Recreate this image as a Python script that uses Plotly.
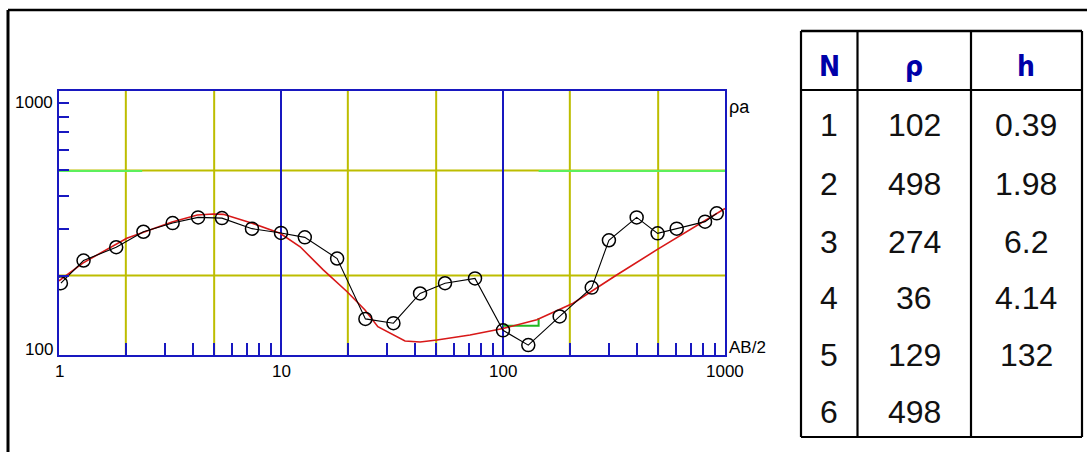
import numpy as np
import plotly.graph_objects as go

W, H = 1087, 452

# Field sounding curve: AB/2 (m) vs apparent resistivity (Ohm*m)
ab2_obs = [1.02, 1.29, 1.81, 2.40, 3.25, 4.23, 5.42, 7.40, 10.0, 12.8, 17.9, 24.0, 32.1,
           42.3, 54.8, 74.8, 100, 130, 180, 251, 300, 400, 497, 606, 813, 918]
rho_obs = [187, 228, 256, 293, 316, 332, 330, 301, 290, 279, 232, 137, 132,
           171, 187, 195, 124, 109, 140, 180, 272, 332, 289, 301, 320, 344]

# Model response curve
ab2_fit = [1.0, 1.28, 2.02, 3.23, 4.2, 4.94, 5.5, 7.3, 9.9, 12.2, 15.5, 19.8, 23.9, 27.3,
           36.2, 42.3, 50.4, 71.0, 100, 142, 207, 325, 492, 695, 1000]
rho_fit = [191, 223, 277, 319, 339, 342, 341, 317, 289, 257, 210, 174, 148, 128,
           113, 112, 114, 119, 126, 136, 157, 201, 250, 298, 359]

# Layered model table
layer_no = [1, 2, 3, 4, 5, 6]
layer_rho = [102, 498, 274, 36, 129, 498]
layer_h = ["0.39", "1.98", "6.2", "4.14", "132", ""]

# Visible parts of the layered model (resistivity steps vs depth)
model_hi_x = [1, 2.37, None, 144.7, 1000]
model_hi_y = [498, 498, None, 498, 498]
model_lo_x = [100, 144.7, 144.7]
model_lo_y = [129, 129, 138]

# Grid positions
grid_major_x = [10, 100]
grid_minor_x = [2, 5, 20, 50, 200, 500]
grid_y = [200, 500]
x_minor_ticks = [m * d for d in (1, 10, 100) for m in range(2, 10)]
y_minor_ticks = [m * 100 for m in range(2, 10)]
x_labels = [1, 10, 100, 1000]

BLUE = "#1818C0"
YELLOW = "#BDBD00"
RED = "#D81818"
GREEN_HI = "#5CF05C"
GREEN_LO = "#22B822"
FONT = "Liberation Sans"

x0p, x1p = 59, 725
y0p, y1p = 355, 91

def vlines(xs, ylo=100, yhi=1000):
    xx, yy = [], []
    for v in xs:
        xx += [v, v, None]
        yy += [ylo, yhi, None]
    return xx, yy

def hlines(ys, xlo=1, xhi=1000):
    xx, yy = [], []
    for v in ys:
        xx += [xlo, xhi, None]
        yy += [v, v, None]
    return xx, yy

fig = go.Figure()

gx, gy = vlines(grid_minor_x)
hx, hy = hlines(grid_y)
fig.add_trace(go.Scatter(x=gx + hx, y=gy + hy, mode="lines",
                         line=dict(color=YELLOW, width=2), hoverinfo="skip"))
bx, by = vlines(grid_major_x)
fig.add_trace(go.Scatter(x=bx, y=by, mode="lines",
                         line=dict(color=BLUE, width=2), hoverinfo="skip"))

fig.add_trace(go.Scatter(x=model_hi_x, y=model_hi_y, mode="lines",
                         line=dict(color=GREEN_HI, width=2), hoverinfo="skip"))
fig.add_trace(go.Scatter(x=model_lo_x, y=model_lo_y, mode="lines",
                         line=dict(color=GREEN_LO, width=2), hoverinfo="skip"))

fig.add_trace(go.Scatter(x=ab2_fit, y=rho_fit, mode="lines",
                         line=dict(color=RED, width=1.6)))
fig.add_trace(go.Scatter(x=ab2_obs, y=rho_obs, mode="lines+markers",
                         line=dict(color="black", width=1.1),
                         marker=dict(symbol="circle-open", size=13, color="black",
                                     line=dict(width=1.5, color="black"))))

fig.update_xaxes(type="log", range=[0, 3], domain=[x0p / W, x1p / W],
                 showgrid=False, zeroline=False, showline=True, mirror=True,
                 linecolor=BLUE, linewidth=2, ticks="inside", ticklen=12,
                 tickwidth=2, tickcolor=BLUE, tickvals=x_minor_ticks,
                 showticklabels=False, fixedrange=True)
fig.update_yaxes(type="log", range=[2, 3], domain=[1 - y0p / H, 1 - y1p / H],
                 showgrid=False, zeroline=False, showline=True, mirror=True,
                 linecolor=BLUE, linewidth=2, ticks="inside", ticklen=10,
                 tickwidth=2, tickcolor=BLUE, tickvals=y_minor_ticks,
                 showticklabels=False, fixedrange=True)

shapes = []
ann = []

# magenta tick at 500 on the left axis
shapes.append(dict(type="line", xref="paper", yref="y",
                   x0=x0p / W, x1=(x0p + 10) / W,
                   y0=np.log10(500), y1=np.log10(500),
                   line=dict(color="#FF60FF", width=2)))

# outer frame (top and left edges)
shapes.append(dict(type="line", xref="paper", yref="paper",
                   x0=8 / W, x1=1.01, y0=1 - 10 / H, y1=1 - 10 / H,
                   line=dict(color="black", width=2.5)))
shapes.append(dict(type="line", xref="paper", yref="paper",
                   x0=8 / W, x1=8 / W, y0=1 - 10 / H, y1=-0.01,
                   line=dict(color="black", width=3)))

def pt(px, py):
    return px / W, 1 - py / H

# axis labels
for v in x_labels:
    ann.append(dict(x=np.log10(v), xref="x", y=1 - 371 / H, yref="paper",
                    text=str(v), showarrow=False, xanchor="center", yanchor="middle",
                    font=dict(family=FONT, size=17, color="black")))
for txt, py in (("1000", 102), ("100", 349)):
    ax, ay = pt(55, py)
    ann.append(dict(x=ax, y=ay, xref="paper", yref="paper", text=txt,
                    showarrow=False, xanchor="right", yanchor="middle",
                    font=dict(family=FONT, size=17, color="black")))
ax, ay = pt(727, 107)
ann.append(dict(x=ax, y=ay, xref="paper", yref="paper", text="ρa",
                showarrow=False, xanchor="left", yanchor="middle",
                font=dict(family=FONT, size=18, color="black")))
ax, ay = pt(727, 347)
ann.append(dict(x=ax, y=ay, xref="paper", yref="paper", text="AB/2",
                showarrow=False, xanchor="left", yanchor="middle",
                font=dict(family=FONT, size=17, color="black")))

# layer table
tl, tr, tt, tb = 801, 1082, 31, 437
col_edges = [801, 857.5, 971, 1082]
col_cent = [829, 914, 1026]
head_y = 90
row_y = [125, 184, 242, 298, 355, 412]

def seg(xa, ya, xb, yb, w=2.2):
    a = pt(xa, ya)
    b = pt(xb, yb)
    shapes.append(dict(type="line", xref="paper", yref="paper",
                       x0=a[0], y0=a[1], x1=b[0], y1=b[1],
                       line=dict(color="black", width=w)))

seg(tl, tt, tr, tt, 2.6)
seg(tl, tb, tr, tb)
for cx in col_edges:
    seg(cx, tt, cx, tb)
seg(tl, head_y, tr, head_y)

HEAD_FONT = "DejaVu Sans Condensed, Liberation Sans"
for txt, cx in zip(["N", "ρ", "h"], col_cent):
    ax, ay = pt(cx, 66)
    ann.append(dict(x=ax, y=ay, xref="paper", yref="paper",
                    text="<b>%s</b>" % txt,
                    showarrow=False, xanchor="center", yanchor="middle",
                    font=dict(family=HEAD_FONT, size=28, color="#0000A8")))

for n, r, h, ry in zip(layer_no, layer_rho, layer_h, row_y):
    for txt, cx in zip([str(n), str(r), h], col_cent):
        if not txt:
            continue
        ax, ay = pt(cx, ry)
        ann.append(dict(x=ax, y=ay, xref="paper", yref="paper", text=txt,
                        showarrow=False, xanchor="center", yanchor="middle",
                        font=dict(family=FONT, size=32, color="#111111")))

fig.update_layout(width=W, height=H, autosize=False,
                  margin=dict(l=0, r=0, t=0, b=0),
                  paper_bgcolor="white", plot_bgcolor="white",
                  showlegend=False, shapes=shapes, annotations=ann)

fig.write_html("out.html", config=dict(displayModeBar=False))
